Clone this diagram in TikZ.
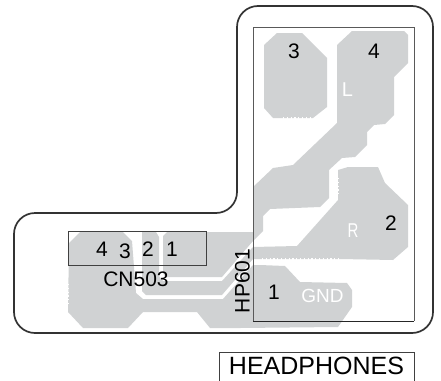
\documentclass[tikz,border=0pt]{standalone}
\usepackage{fontspec}
\setmainfont{Liberation Sans}
\definecolor{copper}{HTML}{D0D2D3}
\definecolor{outl}{HTML}{333333}
\begin{document}
\begin{tikzpicture}[x=1pt,y=-1pt,
  pad/.style={fill=copper,draw=none},
  teeth/.style={draw=white,line width=1.6pt,dash pattern=on 1.2pt off 2.6pt},
  lab/.style={inner sep=0pt,font=\fontsize{21}{24}\selectfont,text=black},
  wlab/.style={inner sep=0pt,font=\fontsize{20}{24}\selectfont,text=white},
  frameline/.style={draw=black!65,line width=0.9pt}]
\useasboundingbox (0,0) rectangle (441,380);
% copper
\path[pad] (277,33)--(302,33)--(327,58)--(327,107)--(313,118)--(273,118)--(264,108)--(264,45)--cycle;
% trace L: pad 4 and pin 1
\path[pad] (352,31)--(404,31)--(408,35)--(408,63)--(394,77)--(394,115)--(385,124)--(374,125)--(367,132)--(367,145)--(355,157)--(342,158)--(329,170)--(329,198)--(320,207)--(270,209)--(263,216)--(263,231)--(253,241)--(222,277)--(165,277)--(163,273)--(163,236)--(167,232)--(253,232)--(253,187)--(273,168)--(293,165)--(337,123)--(337,45)--cycle;
% trace R: pad 2 and pin 2
\path[pad] (142,232)--(156,232)--(159,237)--(159,276)--(163,281)--(222,281)--(253,247)--(297,246)--(338,200)--(338,170)--(348,167)--(378,167)--(385,183)--(408,205)--(408,247)--(393,260)--(340,259)--(253,259)--(222,295)--(146,295)--(142,291)--cycle;
% pins 3/4 and GND
\path[pad] (69,243)--(80,232)--(123,232)--(132,241)--(136,293)--(143,299)--(223,299)--(253,265)--(260,265)--(285,266)--(300,282)--(347,283)--(352,290)--(352,307)--(338,327)--(240,328)--(210,328)--(197,312)--(143,312)--(128,328)--(83,328)--(68,312)--cycle;
\draw[teeth] (283,118)--(313,118);
\draw[teeth] (262,259)--(340,259);
\draw[teeth] (338,178)--(338,195);
\draw[teeth] (68.5,284)--(68.5,304);
% frames
\draw[frameline] (253,321)--(253,27)--(414,27)--(414,321);
\draw[draw=black!85,line width=0.9pt] (253,321)--(414,321);
\draw[draw=black!75,line width=0.9pt] (68.5,231) rectangle (206.5,265);
\draw[draw=black!75,line width=0.9pt] (219,381)--(219,352)--(414,352)--(414,381);
\draw[draw=outl,line width=1.7pt,rounded corners=21pt] (237,6)--(433,6)--(433,333)--(14,333)--(14,213)--(237,213)--cycle;
% labels
\node[lab] (p3) at (294,51) {3};
\node[lab] (p4) at (374,51) {4};
\node[lab] (p2) at (391,223) {2};
\node[lab] (p1) at (274,292) {1};
\node[lab] (c4) at (102,249) {4};
\node[lab] (c3) at (125,251) {3};
\node[lab] (c2) at (148,249) {2};
\node[lab] (c1) at (172,249) {1};
\node[lab] (cn) at (136,279) {CN503};
\node[lab,rotate=90] (hp) at (242.5,281) {HP601};
\node[inner sep=0pt,font=\fontsize{25}{30}\selectfont] (hd) at (316.5,365.5) {HEADPHONES};
\node[wlab] (tl) at (347.5,89.5) {L};
\node[wlab] (tr) at (353,231) {\scalebox{0.75}[1]{R}};
\node[wlab,font=\fontsize{19}{24}\selectfont] (tg) at (322.5,296) {GND};
\end{tikzpicture}
\end{document}
